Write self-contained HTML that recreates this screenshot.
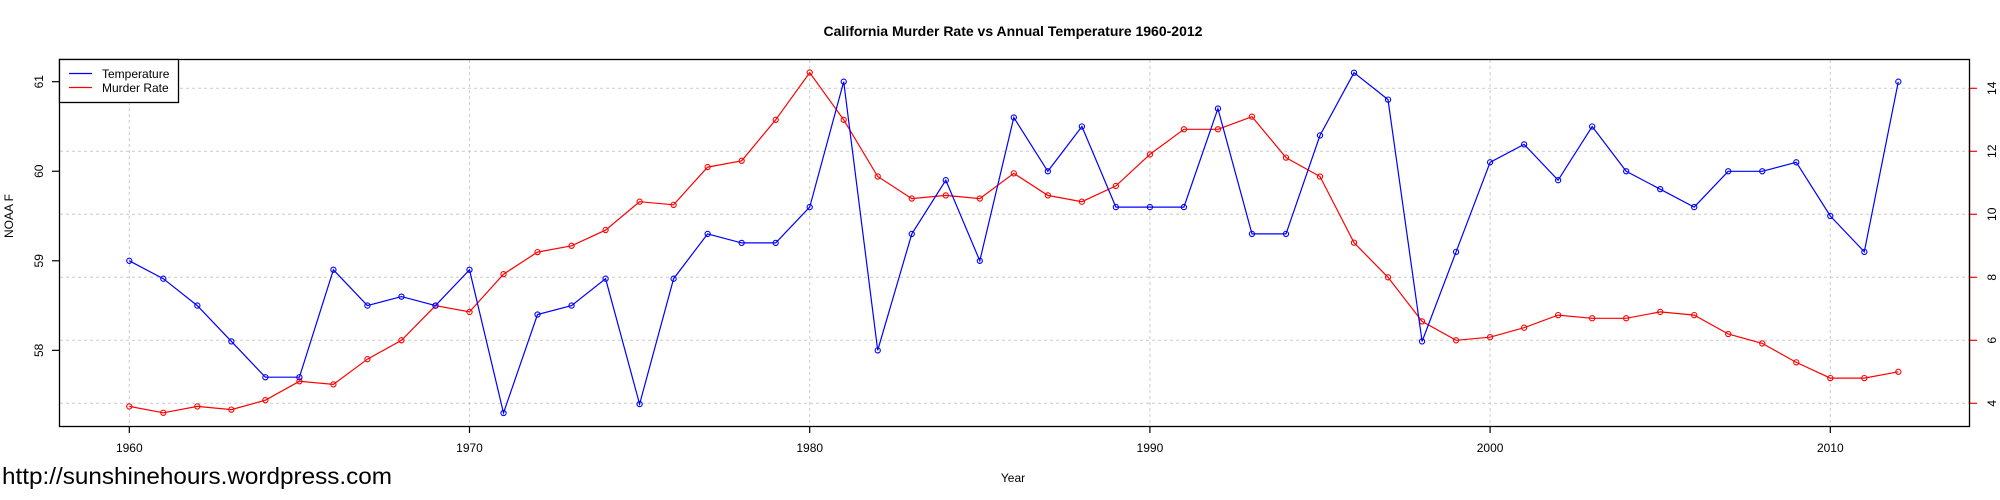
<!DOCTYPE html>
<html><head><meta charset="utf-8"><style>
html,body{margin:0;padding:0;background:#fff}
svg{display:block;font-family:"Liberation Sans",Arial,sans-serif}
</style></head><body>
<svg id="chart" width="2000" height="500" viewBox="0 0 2000 500" xmlns="http://www.w3.org/2000/svg">
<rect x="0" y="0" width="2000" height="500" fill="#fff"/>
<text x="1013" y="36" text-anchor="middle" font-size="14" font-weight="bold">California Murder Rate vs Annual Temperature 1960-2012</text>
<g id="grid"></g>
<g id="axes"></g>
<g id="series"></g>
<rect x="59.5" y="59.5" width="1910" height="367" fill="none" stroke="#000" stroke-width="1.3"/>
<g>
<rect x="59.5" y="59.5" width="119" height="43" fill="#fff" stroke="#000" stroke-width="1.3"/>
<line x1="69" y1="73.5" x2="92" y2="73.5" stroke="#00f" stroke-width="1.2"/>
<text x="102" y="78" font-size="12">Temperature</text>
<line x1="69" y1="87.5" x2="92" y2="87.5" stroke="#f00" stroke-width="1.2"/>
<text x="102" y="92" font-size="12">Murder Rate</text>
</g>
<text transform="translate(13,216) rotate(-90)" text-anchor="middle" font-size="12">NOAA F</text>
<text x="1013" y="482" text-anchor="middle" font-size="12">Year</text>
<text x="2" y="484" font-size="23" textLength="390" lengthAdjust="spacingAndGlyphs">http://sunshinehours.wordpress.com</text>
</svg>
<script>
const years = [1960,1961,1962,1963,1964,1965,1966,1967,1968,1969,1970,1971,1972,1973,1974,1975,1976,1977,1978,1979,1980,1981,1982,1983,1984,1985,1986,1987,1988,1989,1990,1991,1992,1993,1994,1995,1996,1997,1998,1999,2000,2001,2002,2003,2004,2005,2006,2007,2008,2009,2010,2011,2012];
const temperature = [59.0,58.8,58.5,58.1,57.7,57.7,58.9,58.5,58.6,58.5,58.9,57.3,58.4,58.5,58.8,57.4,58.8,59.3,59.2,59.2,59.6,61.0,58.0,59.3,59.9,59.0,60.6,60.0,60.5,59.6,59.6,59.6,60.7,59.3,59.3,60.4,61.1,60.8,58.1,59.1,60.1,60.3,59.9,60.5,60.0,59.8,59.6,60.0,60.0,60.1,59.5,59.1,61.0];
const murderRate = [3.9,3.7,3.9,3.8,4.1,4.7,4.6,5.4,6.0,7.1,6.9,8.1,8.8,9.0,9.5,10.4,10.3,11.5,11.7,13.0,14.5,13.0,11.2,10.5,10.6,10.5,11.3,10.6,10.4,10.9,11.9,12.7,12.7,13.1,11.8,11.2,9.1,8.0,6.6,6.0,6.1,6.4,6.8,6.7,6.7,6.9,6.8,6.2,5.9,5.3,4.8,4.8,5.0];
const xTicks = [1960,1970,1980,1990,2000,2010];
const leftTicks = [58,59,60,61];
const rightTicks = [4,6,8,10,12,14];

const NS = "http://www.w3.org/2000/svg";
const xs = y => 129.3 + (y - 1960) * 34.02;
const yl = v => 81.7 + (61 - v) * 89.55;
const yr = v => 403.3 - (v - 4) * 31.5;
function mk(tag, attrs, parent) {
  const e = document.createElementNS(NS, tag);
  for (const k in attrs) e.setAttribute(k, attrs[k]);
  parent.appendChild(e);
  return e;
}
const grid = document.getElementById('grid');
const axes = document.getElementById('axes');
const series = document.getElementById('series');

xTicks.forEach(t => {
  const g = mk('line', {x1: xs(t), x2: xs(t), y1: 60, y2: 426, stroke: '#ccc', 'stroke-dasharray': '3,3'}, grid);
  
  
  const tk = mk('line', {x1: xs(t), x2: xs(t), y1: 426, y2: 433, stroke: '#000', 'stroke-width': 1.2}, axes);
  
  
  const lb = mk('text', {x: xs(t), y: 452, 'text-anchor': 'middle', 'font-size': 12}, axes);
  lb.textContent = t;
  
  
});
rightTicks.forEach(t => {
  const g = mk('line', {x1: 60, x2: 1969, y1: yr(t), y2: yr(t), stroke: '#ccc', 'stroke-dasharray': '3,3'}, grid);
  
  
  const tk = mk('line', {x1: 1969, x2: 1977, y1: yr(t), y2: yr(t), stroke: '#f00', 'stroke-width': 1.2}, axes);
  
  
  const lb = mk('text', {transform: `translate(1996,${yr(t)}) rotate(-90)`, 'text-anchor': 'middle', 'font-size': 12}, axes);
  lb.textContent = t;
  
  
});
const ra = mk('line', {x1: 1969.5, x2: 1969.5, y1: yr(rightTicks[0]), y2: yr(rightTicks[rightTicks.length-1]), stroke: '#f00', 'stroke-width': 1.3}, axes);


leftTicks.forEach(t => {
  const tk = mk('line', {x1: 52, x2: 59, y1: yl(t), y2: yl(t), stroke: '#000', 'stroke-width': 1.2}, axes);
  
  
  const lb = mk('text', {transform: `translate(43,${yl(t)}) rotate(-90)`, 'text-anchor': 'middle', 'font-size': 12}, axes);
  lb.textContent = t;
  
  
});

function drawSeries(vals, yf, color, name) {
  const pts = vals.map((v, i) => xs(years[i]).toFixed(1) + ',' + yf(v).toFixed(1)).join(' ');
  const pl = mk('polyline', {points: pts, fill: 'none', stroke: color, 'stroke-width': 1.2}, series);
  
  
  vals.forEach((v, i) => {
    const c = mk('circle', {cx: xs(years[i]), cy: yf(v), r: 2.6, fill: 'none', stroke: color, 'stroke-width': 1.1}, series);
    
    
  });
}
drawSeries(murderRate, yr, '#f00', 'murder-rate');
drawSeries(temperature, yl, '#00f', 'temperature');
</script>
</body></html>
